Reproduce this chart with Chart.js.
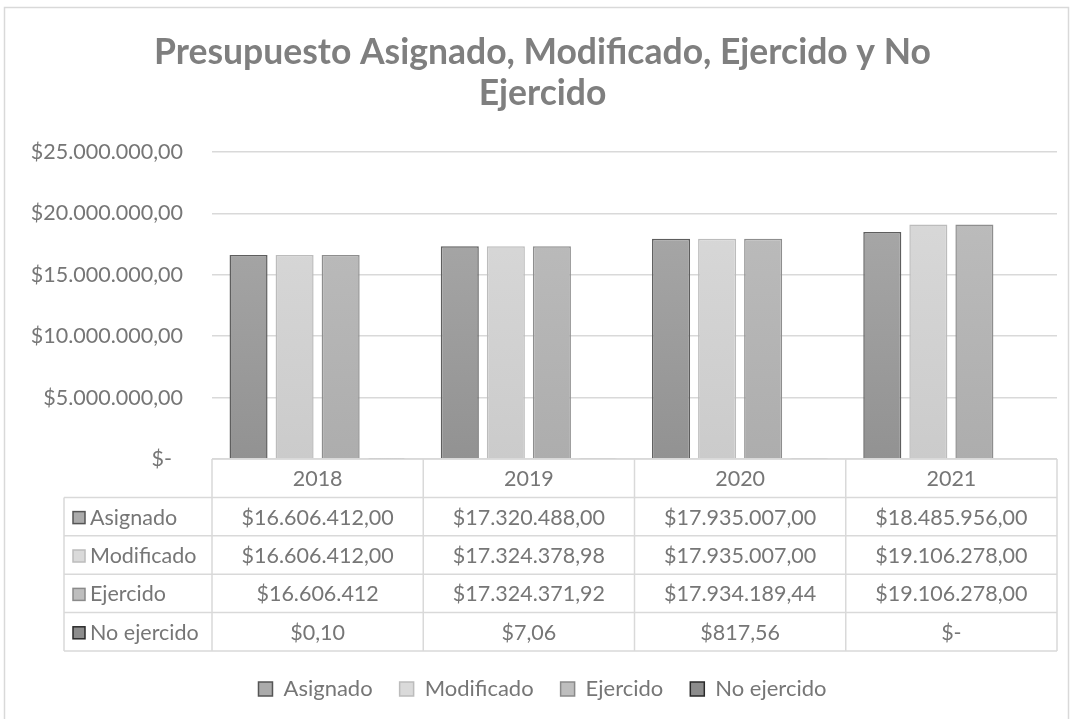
<!DOCTYPE html>
<html>
<head>
<meta charset="utf-8">
<script src="https://cdn.jsdelivr.net/npm/chart.js@4/dist/chart.umd.min.js"></script>
<style>
  html, body { margin: 0; padding: 0; background: #fff; overflow: hidden; }
  #wrap { position: relative; width: 1073px; height: 719px; }
</style>
</head>
<body>
<div id="wrap"><canvas id="chart" width="1073" height="719"></canvas></div>
<script>
// Data
const YEARS = ["2018", "2019", "2020", "2021"];
const SERIES = ["Asignado", "Modificado", "Ejercido", "No ejercido"];
const ASIGNADO = [16606412, 17320488, 17935007, 18485956];
const MODIFICADO = [16606412, 17324378.98, 17935007, 19106278];
const EJERCIDO = [16606412, 17324371.92, 17934189.44, 19106278];
const NO_EJERCIDO = [0.10, 7.06, 817.56, 0];
const TABLE_TEXT = [
	["$16.606.412,00", "$17.320.488,00", "$17.935.007,00", "$18.485.956,00"],
	["$16.606.412,00", "$17.324.378,98", "$17.935.007,00", "$19.106.278,00"],
	["$16.606.412", "$17.324.371,92", "$17.934.189,44", "$19.106.278,00"],
	["$0,10", "$7,06", "$817,56", "$-"],
];
const Y_MAX = 25000000;
const Y_STEP = 5000000;

// Styles
const FONT = "Lato";
const TEXT_COLOR = "#767676";
const GRID_COLOR = "#d9d9d9";
const FILL_TOP = ["#ababab", "#dadada", "#bebebe", "#8c8c8c"];
const FILL_BOTTOM = ["#929292", "#cbcbcb", "#adadad", "#7a7a7a"];
const BORDER = ["#5e5e5e", "#bcbcbc", "#8e8e8e", "#c8c8c8"];
const SWATCH_BORDER = ["#555555", "#bcbcbc", "#8a8a8a", "#2a2a2a"];
const TABLE_LEFT = 64;
const PAD_LEFT = 28;

const gradient = (i) => (ctx) => {
	const area = ctx.chart.chartArea;
	if (!area) return FILL_TOP[i];
	const g = ctx.chart.ctx.createLinearGradient(0, area.top + 20, 0, area.bottom);
	g.addColorStop(0, FILL_TOP[i]);
	g.addColorStop(1, FILL_BOTTOM[i]);
	return g;
};

const fmtMoney = (v) => {
	if (v === 0) return "$-  ";
	return "$" + Math.round(v).toString().replace(/\B(?=(\d{3})+(?!\d))/g, ".") + ",00";
};

// Frame + data table under the plot
const tablePlugin = {
	id: "dataTable",
	beforeDraw(chart) {
		const c = chart.ctx;
		c.save();
		c.strokeStyle = GRID_COLOR;
		c.lineWidth = 1.5;
		c.strokeRect(4.5, 7.5, 1064, 760);
		c.restore();
	},
	afterDraw(chart) {
		const c = chart.ctx;
		const area = chart.chartArea;
		const xs = chart.scales.x;
		const top = area.bottom;
		const rowH = xs.height / 5;
		const colW = (area.right - area.left) / YEARS.length;

		c.save();
		c.strokeStyle = GRID_COLOR;
		c.lineWidth = 1.5;
		c.beginPath();
		// horizontal lines
		c.moveTo(area.left, top);
		c.lineTo(area.right, top);
		for (let r = 1; r <= 5; r++) {
			c.moveTo(TABLE_LEFT, top + r * rowH);
			c.lineTo(area.right, top + r * rowH);
		}
		// vertical lines
		for (let k = 0; k <= YEARS.length; k++) {
			const x = area.left + k * colW;
			c.moveTo(x, top);
			c.lineTo(x, top + 5 * rowH);
		}
		c.moveTo(TABLE_LEFT, top + rowH);
		c.lineTo(TABLE_LEFT, top + 5 * rowH);
		c.stroke();

		c.fillStyle = TEXT_COLOR;
		c.font = "21.5px " + FONT;
		c.textAlign = "center";
		c.textBaseline = "middle";
		YEARS.forEach((y, k) => {
			c.fillText(y, xs.getPixelForValue(k), top + rowH / 2 + 1);
		});
		TABLE_TEXT.forEach((row, r) => {
			const cy = top + (r + 1.5) * rowH + 1;
			row.forEach((t, k) => c.fillText(t, xs.getPixelForValue(k), cy));
			// row header with swatch
			c.fillStyle = FILL_TOP[r];
			c.fillRect(73, cy - 6, 12, 12);
			c.strokeStyle = SWATCH_BORDER[r];
			c.lineWidth = 1.5;
			c.strokeRect(73, cy - 6, 12, 12);
			c.fillStyle = TEXT_COLOR;
			c.textAlign = "left";
			c.fillText(SERIES[r], 90, cy);
			c.textAlign = "center";
		});
		c.restore();
	},
};

const DATA = {
	labels: YEARS,
	datasets: [ASIGNADO, MODIFICADO, EJERCIDO, NO_EJERCIDO].map((values, i) => ({
		label: SERIES[i],
		data: values,
		backgroundColor: gradient(i),
		borderColor: BORDER[i],
		borderWidth: 1.5,
		borderSkipped: "bottom",
		barPercentage: 0.826,
		categoryPercentage: 0.872,
	})),
};

const CONFIG = {
	type: "bar",
	data: DATA,
	plugins: [tablePlugin],
	options: {
		responsive: false,
		animation: false,
		layout: {
			padding: { left: PAD_LEFT, right: 16, top: 0, bottom: 9 },
		},
		plugins: {
			title: {
				display: true,
				text: ["Presupuesto Asignado, Modificado, Ejercido y No", "Ejercido"],
				color: "#7f7f7f",
				font: { family: FONT, size: 35.5, weight: "bold", lineHeight: 1.155 },
				padding: { top: 32, bottom: 38 },
			},
			legend: {
				position: "bottom",
				labels: {
					color: TEXT_COLOR,
					font: { family: FONT, size: 22 },
					boxWidth: 14,
					boxHeight: 14,
					padding: 27,
					generateLabels: (chart) => chart.data.datasets.map((ds, i) => ({
						text: ds.label,
						fillStyle: FILL_TOP[i],
						strokeStyle: SWATCH_BORDER[i],
						lineWidth: 1.5,
						fontColor: TEXT_COLOR,
						datasetIndex: i,
						hidden: false,
					})),
				},
			},
			tooltip: { enabled: false },
		},
		scales: {
			x: {
				border: { display: false },
				grid: { display: false },
				ticks: { display: false },
				afterFit: (scale) => { scale.height = 192; },
			},
			y: {
				min: 0,
				max: Y_MAX,
				border: { display: false },
				grid: { color: GRID_COLOR, lineWidth: 1.5, drawTicks: false },
				ticks: {
					stepSize: Y_STEP,
					padding: 29,
					color: TEXT_COLOR,
					font: { family: FONT, size: 21.5 },
					callback: (v) => fmtMoney(v),
				},
				afterFit: (scale) => { scale.width = 212 - PAD_LEFT; },
			},
		},
	},
};

new Chart(document.getElementById("chart"), CONFIG);
</script>
</body>
</html>
